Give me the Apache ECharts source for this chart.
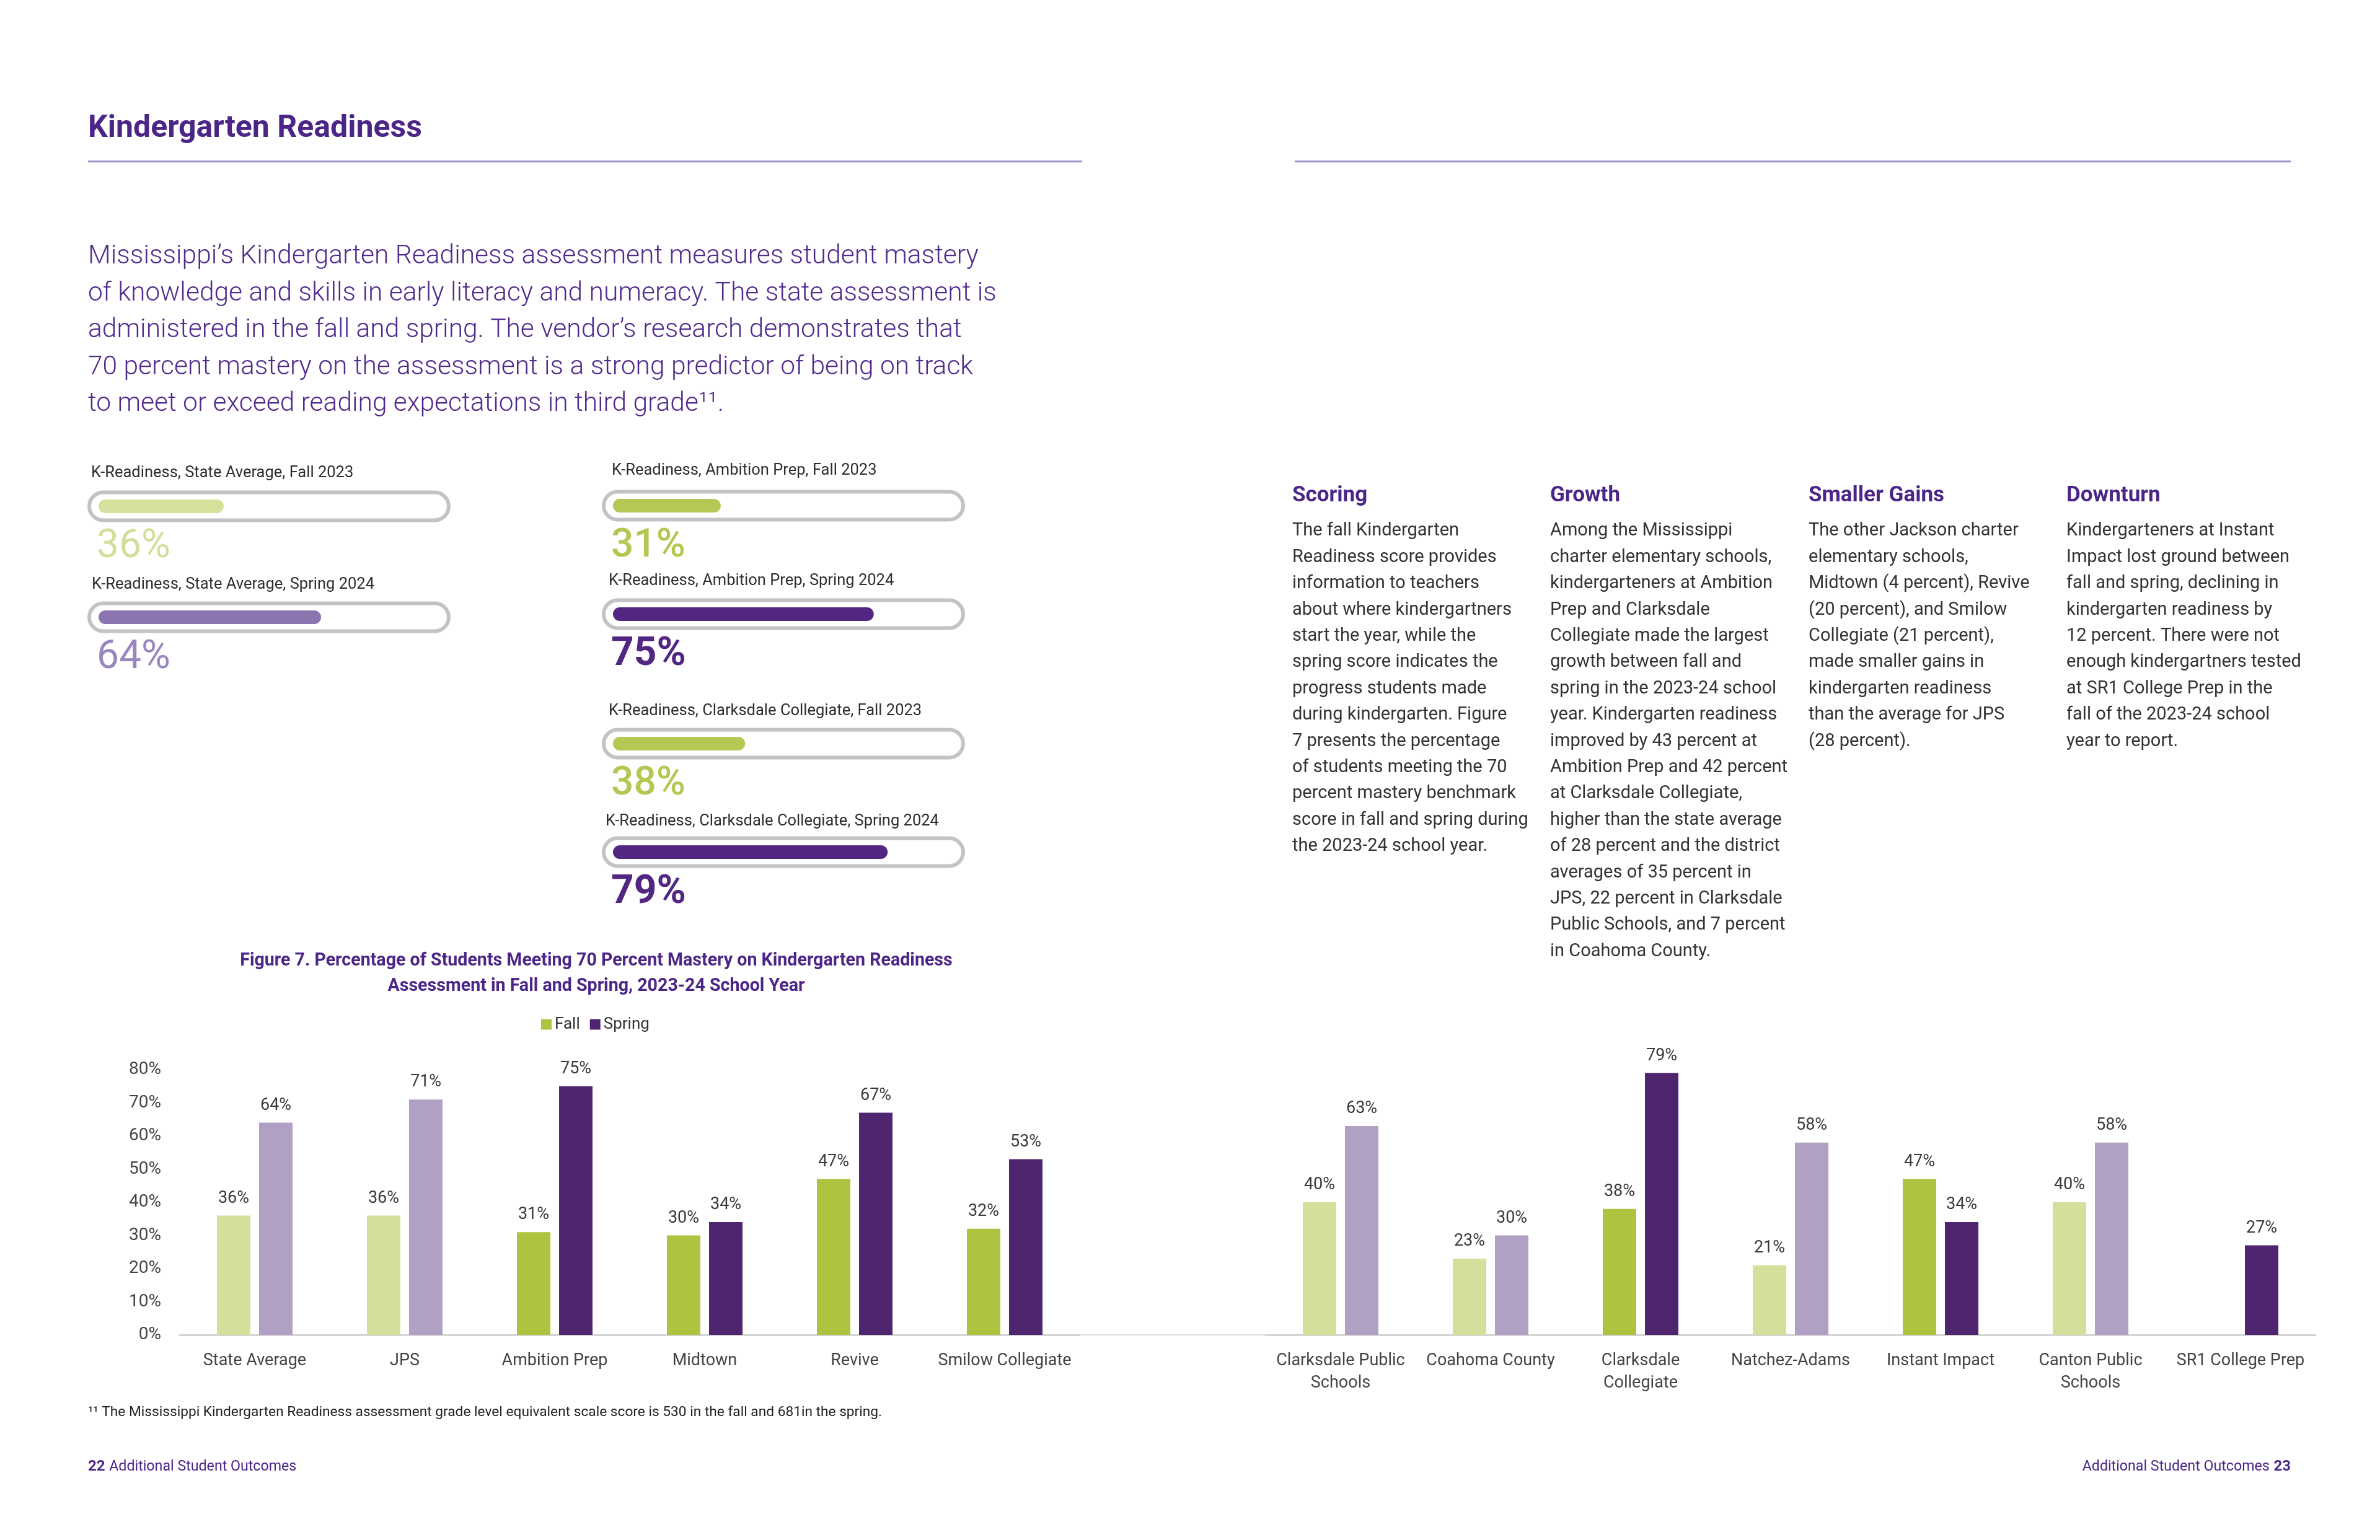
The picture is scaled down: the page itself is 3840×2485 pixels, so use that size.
<!DOCTYPE html>
<html>
<head>
<meta charset="utf-8">
<script src="https://cdn.jsdelivr.net/npm/echarts@6/dist/echarts.min.js"></script>
<style>
html,body{margin:0;padding:0;background:#ffffff;}
#c{width:3840px;height:2485px;}
</style>
</head>
<body>
<div id="c"></div>
<script>
// ---------------- DATA ----------------
const seriesNames = ['Fall', 'Spring'];

const categoriesLeft = ['State Average', 'JPS', 'Ambition Prep', 'Midtown', 'Revive', 'Smilow Collegiate'];
const fallLeft = [36, 36, 31, 30, 47, 32];
const springLeft = [64, 71, 75, 34, 67, 53];
const charterLeft = [false, false, true, true, true, true];

const categoriesRight = ['Clarksdale Public\nSchools', 'Coahoma County', 'Clarksdale\nCollegiate', 'Natchez-Adams', 'Instant Impact', 'Canton Public\nSchools', 'SR1 College Prep'];
const fallRight = [40, 23, 38, 21, 47, 40, null];
const springRight = [63, 30, 79, 58, 34, 58, 27];
const charterRight = [false, false, true, false, true, false, true];

const yAxisMin = 0;
const yAxisMax = 80;
const yAxisInterval = 10;

const progressLabels = [
  'K-Readiness, State Average, Fall 2023',
  'K-Readiness, State Average, Spring 2024',
  'K-Readiness, Ambition Prep, Fall 2023',
  'K-Readiness, Ambition Prep, Spring 2024',
  'K-Readiness, Clarksdale Collegiate, Fall 2023',
  'K-Readiness, Clarksdale Collegiate, Spring 2024'
];
const progressValues = [36, 64, 31, 75, 38, 79];
const progressKind = ['fallLight', 'springLight', 'fall', 'spring', 'fall', 'spring'];
const progressMax = 100;

// ---------------- TEXT ----------------
const pageTitle = 'Kindergarten Readiness';
const introLines = [
  'Mississippi\u2019s Kindergarten Readiness assessment measures student mastery',
  'of knowledge and skills in early literacy and numeracy. The state assessment is',
  'administered in the fall and spring. The vendor\u2019s research demonstrates that',
  '70 percent mastery on the assessment is a strong predictor of being on track',
  'to meet or exceed reading expectations in third grade\u00B9\u00B9.'
];
const figureTitle = [
  'Figure 7. Percentage of Students Meeting 70 Percent Mastery on Kindergarten Readiness',
  'Assessment in Fall and Spring, 2023-24 School Year'
];
const columns = [
  { head: 'Scoring', body: [
    'The fall Kindergarten', 'Readiness score provides', 'information to teachers',
    'about where kindergartners', 'start the year, while the', 'spring score indicates the',
    'progress students made', 'during kindergarten. Figure', '7 presents the percentage',
    'of students meeting the 70', 'percent mastery benchmark', 'score in fall and spring during',
    'the 2023-24 school year.' ] },
  { head: 'Growth', body: [
    'Among the Mississippi', 'charter elementary schools,', 'kindergarteners at Ambition',
    'Prep and Clarksdale', 'Collegiate made the largest', 'growth between fall and',
    'spring in the 2023-24 school', 'year. Kindergarten readiness', 'improved by 43 percent at',
    'Ambition Prep and 42 percent', 'at Clarksdale Collegiate,', 'higher than the state average',
    'of 28 percent and the district', 'averages of 35 percent in', 'JPS, 22 percent in Clarksdale',
    'Public Schools, and 7 percent', 'in Coahoma County.' ] },
  { head: 'Smaller Gains', body: [
    'The other Jackson charter', 'elementary schools,', 'Midtown (4 percent), Revive',
    '(20 percent), and Smilow', 'Collegiate (21 percent),', 'made smaller gains in',
    'kindergarten readiness', 'than the average for JPS', '(28 percent).' ] },
  { head: 'Downturn', body: [
    'Kindergarteners at Instant', 'Impact lost ground between', 'fall and spring, declining in',
    'kindergarten readiness by', '12 percent. There were not', 'enough kindergartners tested',
    'at SR1 College Prep in the', 'fall of the 2023-24 school', 'year to report.' ] }
];
const footnote = '\u00B9\u00B9 The Mississippi Kindergarten Readiness assessment grade level equivalent scale score is 530 in the fall and 681in the spring.';
const footerLeftNum = '22';
const footerText = 'Additional Student Outcomes';
const footerRightNum = '23';

// ---------------- STYLE / LAYOUT ----------------
const FONT = 'Roboto, "Noto Sans", sans-serif';
const PURPLE = '#4B2587';
const TEXT = '#333333';
const COLORS = {
  fallLight: '#D4DF9C',
  springLight: '#B0A1C4',
  fall: '#ACC43F',
  spring: '#502570'
};
const PROGRESS_FILL = { fallLight: '#D5E09C', springLight: '#8C74B0', fall: '#B4C853', spring: '#522683' };
const PROGRESS_NUM = { fallLight: '#D3DE9B', springLight: '#9A86BE', fall: '#B3C752', spring: '#522683' };
const PROGRESS_WEIGHT = { fallLight: 400, springLight: 400, fall: 500, spring: 'bold' };
const progressLayout = [
  { left: 159, cy: 817, capX: 147, capY: 764 },
  { left: 159, cy: 996, capX: 148, capY: 944 },
  { left: 989, cy: 816, capX: 987, capY: 760 },
  { left: 989, cy: 991, capX: 982, capY: 938 },
  { left: 989, cy: 1200, capX: 982, capY: 1148 },
  { left: 989, cy: 1375, capX: 977, capY: 1326 }
];
const PROGRESS_W = 561;

const chart = echarts.init(document.getElementById('c'), null, { renderer: 'canvas', width: 3840, height: 2485 });

function trackRender(params, api) {
  const s = api.coord([0, api.value(1)]);
  const e = api.coord([api.value(0), api.value(1)]);
  return {
    type: 'rect',
    shape: { x: s[0] - 15, y: s[1] - 22.5, width: e[0] - s[0] + 19, height: 45, r: 22.5 },
    style: { fill: '#ffffff', stroke: '#C3C3C7', lineWidth: 6 }
  };
}

const grids = [];
const xAxes = [];
const yAxes = [];
const series = [];

progressValues.forEach(function (v, i) {
  const L = progressLayout[i];
  const kind = progressKind[i];
  grids.push({ left: L.left, top: L.cy - 25, width: PROGRESS_W, height: 50 });
  xAxes.push({ type: 'value', gridIndex: i, min: 0, max: progressMax, show: false });
  yAxes.push({ type: 'category', gridIndex: i, data: [progressLabels[i]], show: false });
  series.push({
    type: 'custom', xAxisIndex: i, yAxisIndex: i, z: 1, silent: true,
    encode: { x: 0, y: 1 },
    data: [[progressMax, 0]],
    renderItem: trackRender
  });
  series.push({
    type: 'bar', xAxisIndex: i, yAxisIndex: i, z: 3, barWidth: 22, silent: true,
    itemStyle: { color: PROGRESS_FILL[kind], borderRadius: 11 },
    label: {
      show: true, position: [-3, 77], align: 'left', verticalAlign: 'middle',
      formatter: '{c}%', fontFamily: FONT, fontSize: 64, fontWeight: PROGRESS_WEIGHT[kind],
      color: PROGRESS_NUM[kind]
    },
    data: [v]
  });
});

// main bar chart grids
const G_L = grids.length;
grids.push({ left: 290, top: 1726, width: 1452, height: 428 });
grids.push({ left: 2042, top: 1726, width: 1694, height: 428 });

function catAxis(gi, data) {
  return {
    type: 'category', gridIndex: gi, data: data,
    axisLine: { show: true, lineStyle: { color: '#D4D4D4', width: 3 } },
    axisTick: { show: false },
    axisLabel: { interval: 0, fontFamily: FONT, fontSize: 27, color: '#444444', margin: 24, lineHeight: 36 }
  };
}
function valAxis(gi, showLabels) {
  return {
    type: 'value', gridIndex: gi, min: yAxisMin, max: yAxisMax, interval: yAxisInterval,
    axisLine: { show: false }, axisTick: { show: false }, splitLine: { show: false },
    axisLabel: { show: showLabels, formatter: '{value}%', fontFamily: FONT, fontSize: 28, color: '#444444', margin: 30 }
  };
}
xAxes.push(catAxis(G_L, categoriesLeft));
xAxes.push(catAxis(G_L + 1, categoriesRight));
yAxes.push(valAxis(G_L, true));
yAxes.push(valAxis(G_L + 1, false));

function barSeries(name, axisIdx, values, charter, isFall) {
  return {
    name: name, type: 'bar', xAxisIndex: axisIdx, yAxisIndex: axisIdx,
    barWidth: 54, barGap: '26%',
    itemStyle: { color: isFall ? COLORS.fall : COLORS.spring },
    label: { show: true, position: 'top', distance: 14, formatter: '{c}%', fontFamily: FONT, fontSize: 27, color: '#3a3a3a' },
    data: values.map(function (v, i) {
      const c = isFall ? (charter[i] ? COLORS.fall : COLORS.fallLight) : (charter[i] ? COLORS.spring : COLORS.springLight);
      return { value: v, itemStyle: { color: c } };
    })
  };
}
series.push(barSeries(seriesNames[0], G_L, fallLeft, charterLeft, true));
series.push(barSeries(seriesNames[1], G_L, springLeft, charterLeft, false));
series.push(barSeries(seriesNames[0], G_L + 1, fallRight, charterRight, true));
series.push(barSeries(seriesNames[1], G_L + 1, springRight, charterRight, false));

// ---------------- GRAPHIC (page text) ----------------
const graphics = [];
graphics.push({ type: 'text', style: { x: 142, y: 208, text: pageTitle, font: 'bold 50px ' + FONT, fill: PURPLE, textVerticalAlign: 'middle' } });
graphics.push({ type: 'rect', shape: { x: 142, y: 259, width: 1604, height: 3 }, style: { fill: '#9E8FC9' } });
graphics.push({ type: 'rect', shape: { x: 2089, y: 259, width: 1607, height: 3 }, style: { fill: '#9E8FC9' } });
graphics.push({ type: 'text', style: { x: 142, y: 385, text: introLines.join('\n'), font: '300 42.5px ' + FONT, fill: '#512A8C', lineHeight: 59.5, textVerticalAlign: 'top' } });

progressLabels.forEach(function (t, i) {
  const L = progressLayout[i];
  graphics.push({ type: 'text', style: { x: L.capX, y: L.capY, text: t, font: '25.5px ' + FONT, fill: '#2e2e2e', textVerticalAlign: 'middle' } });
});

const colX = [2085, 2501, 2918, 3334];
columns.forEach(function (c, i) {
  graphics.push({ type: 'text', style: { x: colX[i], y: 800, text: c.head, font: 'bold 35px ' + FONT, fill: PURPLE, textVerticalAlign: 'middle' } });
  graphics.push({ type: 'text', style: { x: colX[i], y: 836, text: c.body.join('\n'), font: '29px ' + FONT, fill: TEXT, lineHeight: 42.4, textVerticalAlign: 'top' } });
});

graphics.push({ type: 'text', style: { x: 962, y: 1530, text: figureTitle.join('\n'), font: 'bold 28.6px ' + FONT, fill: PURPLE, lineHeight: 41, textAlign: 'center', textVerticalAlign: 'top' } });
graphics.push({ type: 'line', shape: { x1: 1742, y1: 2154, x2: 2042, y2: 2154 }, style: { stroke: '#DEDEDE', lineWidth: 2 } });

graphics.push({ type: 'text', style: { x: 142, y: 2279, text: footnote, font: '22.7px ' + FONT, fill: '#222222', textVerticalAlign: 'middle' } });
graphics.push({ type: 'text', style: { x: 142, y: 2367, text: '{b|' + footerLeftNum + '}  {n|' + footerText + '}', textVerticalAlign: 'middle',
  rich: { b: { fontFamily: FONT, fontWeight: 'bold', fontSize: 24, fill: PURPLE, color: PURPLE }, n: { fontFamily: FONT, fontSize: 23.2, color: PURPLE, fill: PURPLE } } } });
graphics.push({ type: 'text', style: { x: 3696, y: 2367, text: '{n|' + footerText + '}  {b|' + footerRightNum + '}', textAlign: 'right', textVerticalAlign: 'middle',
  rich: { b: { fontFamily: FONT, fontWeight: 'bold', fontSize: 24, fill: PURPLE, color: PURPLE }, n: { fontFamily: FONT, fontSize: 23.2, color: PURPLE, fill: PURPLE } } } });

chart.setOption({
  backgroundColor: '#ffffff',
  animation: false,
  legend: {
    data: seriesNames, left: 868, top: 1635, itemWidth: 17, itemHeight: 17, itemGap: 16,
    icon: 'rect', textStyle: { fontFamily: FONT, fontSize: 26, color: '#333333' }
  },
  grid: grids,
  xAxis: xAxes,
  yAxis: yAxes,
  series: series,
  graphic: graphics
});
</script>
</body>
</html>
